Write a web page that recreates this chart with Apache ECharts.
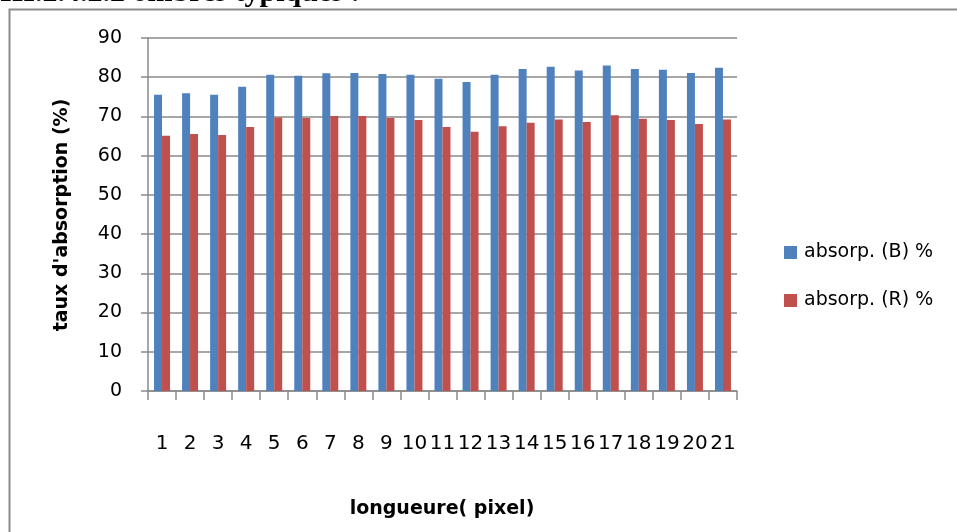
<!DOCTYPE html>
<html>
<head>
<meta charset="utf-8">
<script src="https://cdn.jsdelivr.net/npm/echarts@6/dist/echarts.min.js"></script>
<style>
  html, body { margin: 0; padding: 0; background: #fff; }
  #chart { width: 957px; height: 532px; }
</style>
</head>
<body>
<div id="chart"></div>
<script>
// Pixel positions along the measured strip
const categories = ['1','2','3','4','5','6','7','8','9','10','11','12','13','14','15','16','17','18','19','20','21'];

// Absorption rate (%) for the blue and red channels
const absorpB = [75.5, 75.9, 75.5, 77.6, 80.6, 80.4, 81.0, 81.1, 80.8, 80.6, 79.6, 78.8, 80.6, 82.1, 82.7, 81.7, 83.0, 82.1, 81.9, 81.1, 82.4];
const absorpR = [65.1, 65.5, 65.3, 67.3, 69.7, 69.6, 70.1, 70.1, 69.6, 69.1, 67.3, 66.1, 67.5, 68.4, 69.2, 68.6, 70.3, 69.4, 69.1, 68.1, 69.2];

const seriesNames = ['absorp. (B) %', 'absorp. (R) %'];
const yTicks = { min: 0, max: 90, step: 10 };

const axisGray = '#8a8a8a';
const labelFont = '"DejaVu Sans", "Liberation Sans", sans-serif';

const chart = echarts.init(document.getElementById('chart'), null, { renderer: 'canvas' });

chart.setOption({
  animation: false,
  backgroundColor: '#ffffff',
  grid: { left: 148, right: 220, top: 38, bottom: 141, containLabel: false },
  legend: {
    orient: 'vertical',
    left: 779,
    top: 238,
    itemWidth: 13,
    itemHeight: 13,
    itemGap: 29,
    icon: 'rect',
    textStyle: { fontFamily: labelFont, fontSize: 19, color: '#000', padding: [0, 0, 0, 2] },
    data: seriesNames
  },
  xAxis: {
    type: 'category',
    data: categories,
    axisLine: { lineStyle: { color: axisGray, width: 1.5 } },
    axisTick: { show: true, alignWithLabel: false, length: 9, lineStyle: { color: axisGray, width: 1.5 } },
    axisLabel: { margin: 43, fontFamily: labelFont, fontSize: 20, color: '#000', interval: 0 },
    splitLine: { show: false }
  },
  yAxis: {
    type: 'value',
    min: yTicks.min,
    max: yTicks.max,
    interval: yTicks.step,
    axisLine: { show: true, lineStyle: { color: axisGray, width: 1.5 } },
    axisTick: { show: true, length: 7, lineStyle: { color: axisGray, width: 1.5 } },
    axisLabel: { margin: 26, fontFamily: labelFont, fontSize: 19, color: '#000' },
    splitLine: { show: true, lineStyle: { color: axisGray, width: 1.5 } }
  },
  series: [
    {
      name: seriesNames[0],
      type: 'bar',
      data: absorpB,
      barGap: '0%',
      barCategoryGap: '43%',
      itemStyle: { color: '#4F81BD' }
    },
    {
      name: seriesNames[1],
      type: 'bar',
      data: absorpR,
      barGap: '0%',
      barCategoryGap: '43%',
      itemStyle: { color: '#C0504D' }
    }
  ],
  graphic: [
    // outer chart frame, running past the right and bottom edges
    {
      type: 'rect',
      shape: { x: 9.5, y: 9.5, width: 1100, height: 700 },
      style: { fill: null, stroke: '#8c8c8c', lineWidth: 2 },
      silent: true
    },
    // section heading above the frame (only its lower part is on the page)
    {
      type: 'text',
      left: 0,
      top: -22,
      style: {
        text: 'III.2.4.2.2 ombres typiques :',
        font: 'bold 30px "Liberation Serif", "DejaVu Serif", serif',
        fill: '#000'
      },
      silent: true
    },
    // y-axis title
    {
      type: 'text',
      x: 62,
      y: 215,
      rotation: Math.PI / 2,
      style: {
        text: "taux d'absorption (%)",
        font: 'bold 19px ' + labelFont,
        fill: '#000',
        align: 'center',
        verticalAlign: 'middle'
      },
      silent: true
    },
    // x-axis title
    {
      type: 'text',
      x: 442,
      y: 509,
      style: {
        text: 'longueure( pixel)',
        font: 'bold 19px ' + labelFont,
        fill: '#000',
        align: 'center',
        verticalAlign: 'middle'
      },
      silent: true
    }
  ]
});
</script>
</body>
</html>
